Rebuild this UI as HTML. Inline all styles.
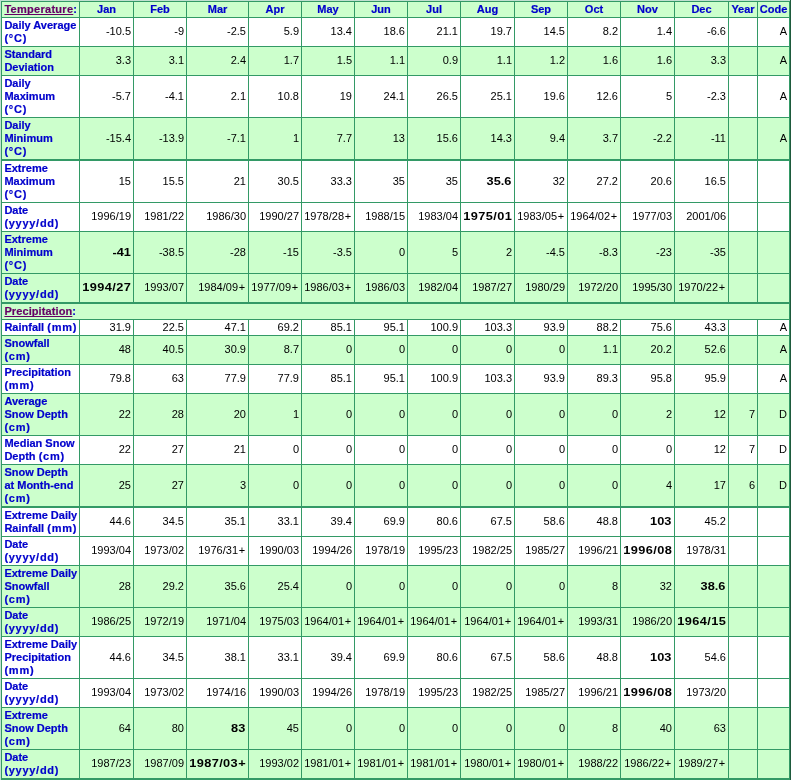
<!DOCTYPE html>
<html><head><meta charset="utf-8"><title>Climate Normals</title>
<style>
html,body{margin:0;padding:0;}
body{background:#c1e0d1;width:791px;height:780px;overflow:hidden;position:relative;
 font-family:"Liberation Sans",sans-serif;font-size:11px;line-height:13px;color:#000;}
.dk{position:absolute;left:790px;top:0;width:1px;height:780px;background:#1e5a3c;}
table{will-change:transform;position:absolute;left:1px;top:1px;width:789px;table-layout:fixed;border-collapse:separate;border-spacing:0;
 border-right:1px solid #339966;border-bottom:2px solid #339966;
 font-family:"Liberation Sans",sans-serif;font-size:11px;line-height:13px;}
th,td{border-left:1px solid #339966;border-top:1px solid #339966;padding:1px;overflow:hidden;white-space:nowrap;vertical-align:middle;box-sizing:border-box;}
tr.tk th,tr.tk td{border-top:2px solid #339966;}
tr.g th,tr.g td{background:#ccffcc;}
tr.w th,tr.w td{background:#ffffff;}
th{color:#0000cc;font-weight:bold;text-align:center;-webkit-text-stroke:.2px #0000cc;}
th.l{text-align:left;padding-left:2.4px;}
td{text-align:right;padding:1px 2px 1px 1px;}
tr.h2 td{padding:0 2px 2px 1px;}
a{-webkit-text-stroke:.2px #660066;color:#660066;text-decoration:underline;text-decoration-skip-ink:none;}
a.t{letter-spacing:.28px;}
a.p{letter-spacing:.1px;}
.uc{letter-spacing:.8px;}
.ud{letter-spacing:.72px;}
.um{letter-spacing:.8px;}
b{font-weight:bold;display:inline-block;transform:scaleX(1.16);transform-origin:100% 50%;}
b{margin-right:.5px;}
b.d{letter-spacing:.35px;margin-right:0;}
b i{width:7px;}
i{font-style:normal;display:inline-block;width:8px;text-align:center;}

tr.h1 th,tr.h1 td{height:16px;}
tr.h2 th,tr.h2 td{height:29px;}
tr.h3 th,tr.h3 td{height:42px;}
tr.h1.tk th{height:17px;}
tr.h2.tk th,tr.h2.tk td{height:30px;}
tr.h3.tk th,tr.h3.tk td{height:43px;}
</style></head>
<body>
<div class="dk"></div>
<table cellspacing="0" cellpadding="0">
<colgroup><col style="width:78px"><col style="width:54px"><col style="width:53px"><col style="width:62px"><col style="width:53px"><col style="width:53px"><col style="width:53px"><col style="width:53px"><col style="width:54px"><col style="width:53px"><col style="width:53px"><col style="width:54px"><col style="width:54px"><col style="width:29px"><col style="width:32px"></colgroup>
<tr class="g h1"><th class="l"><a class="t">Temperature</a>:</th><th>Jan</th><th>Feb</th><th>Mar</th><th>Apr</th><th>May</th><th>Jun</th><th>Jul</th><th>Aug</th><th>Sep</th><th>Oct</th><th>Nov</th><th>Dec</th><th>Year</th><th>Code</th></tr>
<tr class="w h2"><th class="l">Daily Average<br><span class="uc">(&deg;C)</span></th><td>-10.5</td><td>-9</td><td>-2.5</td><td>5.9</td><td>13.4</td><td>18.6</td><td>21.1</td><td>19.7</td><td>14.5</td><td>8.2</td><td>1.4</td><td>-6.6</td><td></td><td>A</td></tr>
<tr class="g h2"><th class="l">Standard<br>Deviation</th><td>3.3</td><td>3.1</td><td>2.4</td><td>1.7</td><td>1.5</td><td>1.1</td><td>0.9</td><td>1.1</td><td>1.2</td><td>1.6</td><td>1.6</td><td>3.3</td><td></td><td>A</td></tr>
<tr class="w h3"><th class="l">Daily<br>Maximum<br><span class="uc">(&deg;C)</span></th><td>-5.7</td><td>-4.1</td><td>2.1</td><td>10.8</td><td>19</td><td>24.1</td><td>26.5</td><td>25.1</td><td>19.6</td><td>12.6</td><td>5</td><td>-2.3</td><td></td><td>A</td></tr>
<tr class="g h3"><th class="l">Daily<br>Minimum<br><span class="uc">(&deg;C)</span></th><td>-15.4</td><td>-13.9</td><td>-7.1</td><td>1</td><td>7.7</td><td>13</td><td>15.6</td><td>14.3</td><td>9.4</td><td>3.7</td><td>-2.2</td><td>-11</td><td></td><td>A</td></tr>
<tr class="w h3 tk"><th class="l">Extreme<br>Maximum<br><span class="uc">(&deg;C)</span></th><td>15</td><td>15.5</td><td>21</td><td>30.5</td><td>33.3</td><td>35</td><td>35</td><td><b>35.6</b></td><td>32</td><td>27.2</td><td>20.6</td><td>16.5</td><td></td><td></td></tr>
<tr class="w h2"><th class="l">Date<br><span class="ud">(yyyy/dd)</span></th><td>1996/19</td><td>1981/22</td><td>1986/30</td><td>1990/27</td><td>1978/28<i>+</i></td><td>1988/15</td><td>1983/04</td><td><b class="d">1975/01</b></td><td>1983/05<i>+</i></td><td>1964/02<i>+</i></td><td>1977/03</td><td>2001/06</td><td></td><td></td></tr>
<tr class="g h3"><th class="l">Extreme<br>Minimum<br><span class="uc">(&deg;C)</span></th><td><b>-41</b></td><td>-38.5</td><td>-28</td><td>-15</td><td>-3.5</td><td>0</td><td>5</td><td>2</td><td>-4.5</td><td>-8.3</td><td>-23</td><td>-35</td><td></td><td></td></tr>
<tr class="g h2"><th class="l">Date<br><span class="ud">(yyyy/dd)</span></th><td><b class="d">1994/27</b></td><td>1993/07</td><td>1984/09<i>+</i></td><td>1977/09<i>+</i></td><td>1986/03<i>+</i></td><td>1986/03</td><td>1982/04</td><td>1987/27</td><td>1980/29</td><td>1972/20</td><td>1995/30</td><td>1970/22<i>+</i></td><td></td><td></td></tr>
<tr class="g h1 tk"><th class="l" colspan="15"><a class="p">Precipitation</a>:</th></tr>
<tr class="w h1"><th class="l">Rainfall <span class="um">(mm)</span></th><td>31.9</td><td>22.5</td><td>47.1</td><td>69.2</td><td>85.1</td><td>95.1</td><td>100.9</td><td>103.3</td><td>93.9</td><td>88.2</td><td>75.6</td><td>43.3</td><td></td><td>A</td></tr>
<tr class="g h2"><th class="l">Snowfall<br><span class="um">(cm)</span></th><td>48</td><td>40.5</td><td>30.9</td><td>8.7</td><td>0</td><td>0</td><td>0</td><td>0</td><td>0</td><td>1.1</td><td>20.2</td><td>52.6</td><td></td><td>A</td></tr>
<tr class="w h2"><th class="l">Precipitation<br><span class="um">(mm)</span></th><td>79.8</td><td>63</td><td>77.9</td><td>77.9</td><td>85.1</td><td>95.1</td><td>100.9</td><td>103.3</td><td>93.9</td><td>89.3</td><td>95.8</td><td>95.9</td><td></td><td>A</td></tr>
<tr class="g h3"><th class="l">Average<br>Snow Depth<br><span class="um">(cm)</span></th><td>22</td><td>28</td><td>20</td><td>1</td><td>0</td><td>0</td><td>0</td><td>0</td><td>0</td><td>0</td><td>2</td><td>12</td><td>7</td><td>D</td></tr>
<tr class="w h2"><th class="l">Median Snow<br>Depth <span class="um">(cm)</span></th><td>22</td><td>27</td><td>21</td><td>0</td><td>0</td><td>0</td><td>0</td><td>0</td><td>0</td><td>0</td><td>0</td><td>12</td><td>7</td><td>D</td></tr>
<tr class="g h3"><th class="l">Snow Depth<br>at Month-end<br><span class="um">(cm)</span></th><td>25</td><td>27</td><td>3</td><td>0</td><td>0</td><td>0</td><td>0</td><td>0</td><td>0</td><td>0</td><td>4</td><td>17</td><td>6</td><td>D</td></tr>
<tr class="w h2 tk"><th class="l">Extreme Daily<br>Rainfall <span class="um">(mm)</span></th><td>44.6</td><td>34.5</td><td>35.1</td><td>33.1</td><td>39.4</td><td>69.9</td><td>80.6</td><td>67.5</td><td>58.6</td><td>48.8</td><td><b>103</b></td><td>45.2</td><td></td><td></td></tr>
<tr class="w h2"><th class="l">Date<br><span class="ud">(yyyy/dd)</span></th><td>1993/04</td><td>1973/02</td><td>1976/31<i>+</i></td><td>1990/03</td><td>1994/26</td><td>1978/19</td><td>1995/23</td><td>1982/25</td><td>1985/27</td><td>1996/21</td><td><b class="d">1996/08</b></td><td>1978/31</td><td></td><td></td></tr>
<tr class="g h3"><th class="l">Extreme Daily<br>Snowfall<br><span class="um">(cm)</span></th><td>28</td><td>29.2</td><td>35.6</td><td>25.4</td><td>0</td><td>0</td><td>0</td><td>0</td><td>0</td><td>8</td><td>32</td><td><b>38.6</b></td><td></td><td></td></tr>
<tr class="g h2"><th class="l">Date<br><span class="ud">(yyyy/dd)</span></th><td>1986/25</td><td>1972/19</td><td>1971/04</td><td>1975/03</td><td>1964/01<i>+</i></td><td>1964/01<i>+</i></td><td>1964/01<i>+</i></td><td>1964/01<i>+</i></td><td>1964/01<i>+</i></td><td>1993/31</td><td>1986/20</td><td><b class="d">1964/15</b></td><td></td><td></td></tr>
<tr class="w h3"><th class="l">Extreme Daily<br>Precipitation<br><span class="um">(mm)</span></th><td>44.6</td><td>34.5</td><td>38.1</td><td>33.1</td><td>39.4</td><td>69.9</td><td>80.6</td><td>67.5</td><td>58.6</td><td>48.8</td><td><b>103</b></td><td>54.6</td><td></td><td></td></tr>
<tr class="w h2"><th class="l">Date<br><span class="ud">(yyyy/dd)</span></th><td>1993/04</td><td>1973/02</td><td>1974/16</td><td>1990/03</td><td>1994/26</td><td>1978/19</td><td>1995/23</td><td>1982/25</td><td>1985/27</td><td>1996/21</td><td><b class="d">1996/08</b></td><td>1973/20</td><td></td><td></td></tr>
<tr class="g h3"><th class="l">Extreme<br>Snow Depth<br><span class="um">(cm)</span></th><td>64</td><td>80</td><td><b>83</b></td><td>45</td><td>0</td><td>0</td><td>0</td><td>0</td><td>0</td><td>8</td><td>40</td><td>63</td><td></td><td></td></tr>
<tr class="g h2"><th class="l">Date<br><span class="ud">(yyyy/dd)</span></th><td>1987/23</td><td>1987/09</td><td><b class="d">1987/03<i>+</i></b></td><td>1993/02</td><td>1981/01<i>+</i></td><td>1981/01<i>+</i></td><td>1981/01<i>+</i></td><td>1980/01<i>+</i></td><td>1980/01<i>+</i></td><td>1988/22</td><td>1986/22<i>+</i></td><td>1989/27<i>+</i></td><td></td><td></td></tr>
</table>
</body></html>
